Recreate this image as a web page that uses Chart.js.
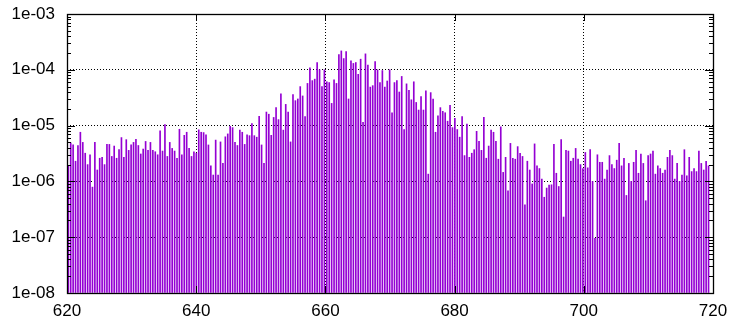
<!DOCTYPE html>
<html>
<head>
<meta charset="utf-8">
<script src="https://cdn.jsdelivr.net/npm/chart.js@4.4.1/dist/chart.umd.min.js"></script>
<style>
  html, body { margin: 0; padding: 0; background: #fff; }
  canvas { display: block; }
</style>
</head>
<body>
<canvas id="myChart" width="734" height="320"></canvas>
<script>
// tick positions
const xTicks = [620, 640, 660, 680, 700, 720];
const yTicks = [1e-8, 1e-7, 1e-6, 1e-5, 1e-4, 1e-3];

// sample positions start / spacing (nm)
const xStart = 620.2;
const xStep = 0.374;

// intensities left to right
const values = [
  // 620 - 645
  1.9e-6, 4.9e-6, 4.5e-6, 2.3e-6, 4.4e-6, 7.6e-6, 5.0e-6, 3.2e-6, 2.0e-6, 3.0e-6,
  7.9e-7, 5.0e-6, 1.6e-6, 2.6e-6, 2.7e-6, 2.0e-6, 4.6e-6, 4.6e-6, 2.8e-6, 4.3e-6,
  2.6e-6, 3.7e-6, 6.1e-6, 2.7e-6, 5.6e-6, 3.6e-6, 4.5e-6, 5.0e-6, 5.7e-6, 4.4e-6,
  3.1e-6, 3.8e-6, 5.2e-6, 3.6e-6, 5.0e-6, 3.6e-6, 3.4e-6, 3.0e-6, 8.1e-6, 3.5e-6,
  1.04e-5, 2.8e-6, 5.0e-6, 3.9e-6, 3.5e-6, 2.6e-6, 8.6e-6, 3.0e-6, 6.7e-6, 7.6e-6,
  3.9e-6, 2.8e-6, 3.4e-6, 3.2e-6, 8.4e-6, 7.6e-6, 7.5e-6, 6.8e-6, 4.5e-6, 1.9e-6,
  1.3e-6, 5.5e-6, 1.3e-6, 5.1e-6, 2.1e-6, 6.3e-6, 7.1e-6,
  // 645 - 670
  9.7e-6, 9.2e-6, 5.0e-6, 4.4e-6, 8.3e-6, 7.6e-6, 4.6e-6, 6.8e-6, 6.6e-6, 1.09e-5,
  6.6e-6, 6.2e-6, 1.47e-5, 4.5e-6, 2.1e-6, 1.75e-5, 1.6e-5, 6.7e-6, 1.4e-5, 2.1e-5,
  1.28e-5, 3.7e-5, 8.3e-6, 2.4e-5, 1.75e-5, 5.1e-6, 3.6e-5, 2.8e-5, 3.0e-5, 5.0e-5,
  3.4e-5, 1.45e-5, 5.7e-5, 1.09e-4, 6.4e-5, 6.8e-5, 1.35e-4, 1.0e-4, 5.0e-5, 1.0e-4,
  6.1e-5, 5.9e-5, 2.5e-5, 6.6e-5, 5.7e-5, 1.88e-4, 2.18e-4, 1.59e-4, 2.12e-4, 3.0e-5,
  1.45e-4, 1.3e-4, 1.35e-4, 8.3e-5, 1.55e-4, 1.15e-5, 1.93e-4, 1.21e-4, 4.9e-5, 5.2e-5,
  1.41e-4, 1.0e-4, 5.9e-5, 9.7e-5, 4.9e-5, 6.3e-5, 1.0e-4,
  // 670 - 695
  1.7e-5, 5.9e-5, 6.4e-5, 4.0e-5, 7.6e-5, 8.5e-6, 5.6e-5, 4.3e-5, 2.9e-5, 6.1e-5,
  2.6e-5, 1.9e-5, 3.3e-5, 1.9e-5, 4.2e-5, 1.35e-6, 3.9e-5, 3.0e-5, 7.6e-6, 1.5e-5,
  2.1e-5, 1.8e-5, 1.7e-5, 1.2e-5, 2.3e-5, 9.2e-6, 1.35e-5, 8.5e-6, 6.2e-6, 1.45e-5,
  2.9e-6, 1.06e-5, 2.7e-6, 3.2e-6, 3.7e-6, 7.9e-6, 5.2e-6, 3.6e-6, 1.4e-5, 2.6e-6,
  4.3e-6, 8.3e-6, 7.6e-6, 5.2e-6, 2.5e-6, 9.5e-6, 1.45e-6, 2.7e-6, 6.8e-7, 4.8e-6,
  2.6e-6, 2.5e-6, 4.2e-6, 3.2e-6, 2.8e-6, 3.8e-7, 2.3e-6, 1.6e-6, 9.0e-7, 4.7e-6,
  1.9e-6, 1.7e-6, 1.1e-6, 5.2e-7, 7.6e-7, 8.6e-7, 8.7e-7,
  // 695 - 720
  4.6e-6, 1.4e-6, 8.1e-7, 5.6e-6, 2.3e-7, 3.6e-6, 3.5e-6, 2.3e-6, 2.6e-6, 3.9e-6,
  2.5e-6, 2.0e-6, 1.7e-6, 3.3e-6, 1.75e-6, 3.7e-6, 1.0e-6, 9.5e-8, 3.0e-6, 2.2e-6,
  2.2e-6, 1.1e-6, 1.6e-6, 2.9e-6, 2.0e-6, 1.7e-6, 2.4e-6, 4.8e-6, 1.9e-6, 2.6e-6,
  5.6e-7, 2.1e-6, 1.0e-6, 2.2e-6, 3.6e-6, 1.4e-6, 3.1e-6, 2.1e-6, 4.5e-7, 2.9e-6,
  3.1e-6, 3.5e-6, 1.35e-6, 1.9e-6, 1.7e-6, 1.4e-6, 1.6e-6, 2.7e-6, 3.6e-6, 2.9e-6,
  1.1e-6, 2.1e-6, 1.0e-6, 1.3e-6, 3.7e-6, 1.26e-6, 2.7e-6, 1.5e-6, 1.7e-6, 1.5e-6,
  3.5e-6, 2.1e-6, 1.6e-6, 2.3e-6, 1.9e-6
];

const points = values.map((v, i) => ({ x: xStart + i * xStep, y: v }));

const fmtExp = (v) => {
  const e = Math.round(Math.log10(v));
  return "1e" + (e < 0 ? "-" : "+") + String(Math.abs(e)).padStart(2, "0");
};

// gnuplot style frame with inward ticks
const framePlugin = {
  id: "frame",
  afterDraw(chart) {
    const c = chart.ctx;
    const a = chart.chartArea;
    const xs = chart.scales.x;
    const ys = chart.scales.y;
    c.save();
    c.strokeStyle = "#000";
    c.lineWidth = 1;
    c.beginPath();
    // y ticks, major + minor
    for (let i = 0; i < yTicks.length; i++) {
      const py = Math.round(ys.getPixelForValue(yTicks[i])) + 0.5;
      c.moveTo(a.left, py); c.lineTo(a.left + 8, py);
      c.moveTo(a.right, py); c.lineTo(a.right - 8, py);
      if (i < yTicks.length - 1) {
        for (let m = 2; m <= 9; m++) {
          const my = Math.round(ys.getPixelForValue(yTicks[i] * m)) + 0.5;
          c.moveTo(a.left, my); c.lineTo(a.left + 4, my);
          c.moveTo(a.right, my); c.lineTo(a.right - 4, my);
        }
      }
    }
    xTicks.forEach((t) => {
      const px = Math.round(xs.getPixelForValue(t)) + 0.5;
      c.moveTo(px, a.bottom); c.lineTo(px, a.bottom - 7);
      c.moveTo(px, a.top); c.lineTo(px, a.top + 7);
    });
    c.stroke();
    c.lineWidth = 1.3;
    c.strokeRect(Math.round(a.left) + 0.5, Math.round(a.top) + 0.5,
      Math.round(a.right - a.left), Math.round(a.bottom - a.top));
    c.restore();
  },
};

const ctx = document.getElementById("myChart");

const myChart = new Chart(ctx, {
  type: "bar",
  data: {
    datasets: [
      {
        data: points,
        backgroundColor: "#9400d3",
        borderWidth: 0,
        barThickness: 1,
        base: 1e-8,
      },
    ],
  },
  options: {
    responsive: false,
    animation: false,
    devicePixelRatio: 1,
    layout: { padding: { top: 14, right: 21, left: 0, bottom: 0 } },
    plugins: { legend: { display: false }, tooltip: { enabled: false } },
    scales: {
      x: {
        type: "linear",
        min: 620,
        max: 720,
        offset: false,
        z: 1,
        afterBuildTicks: (s) => { s.ticks = xTicks.map((v) => ({ value: v })); },
        afterFit: (s) => { s.height = 27; s.paddingLeft = 0; s.paddingRight = 0; },
        grid: { color: "#000", lineWidth: 1, drawTicks: false, offset: false },
        border: { display: false, dash: [1, 2] },
        ticks: {
          color: "#000",
          padding: 8,
          maxRotation: 0,
          font: { family: "Liberation Sans, Arial", size: 17 },
        },
      },
      y: {
        type: "logarithmic",
        min: 1e-8,
        max: 1e-3,
        z: 1,
        afterBuildTicks: (s) => { s.ticks = yTicks.map((v) => ({ value: v })); },
        afterFit: (s) => { s.width = 67; s.paddingTop = 0; s.paddingBottom = 0; },
        grid: { color: "#000", lineWidth: 1, drawTicks: false },
        border: { display: false, dash: [1, 2] },
        ticks: {
          color: "#000",
          padding: 12,
          callback: (v) => fmtExp(v),
          font: { family: "Liberation Sans, Arial", size: 17 },
        },
      },
    },
  },
  plugins: [framePlugin],
});
</script>
</body>
</html>
